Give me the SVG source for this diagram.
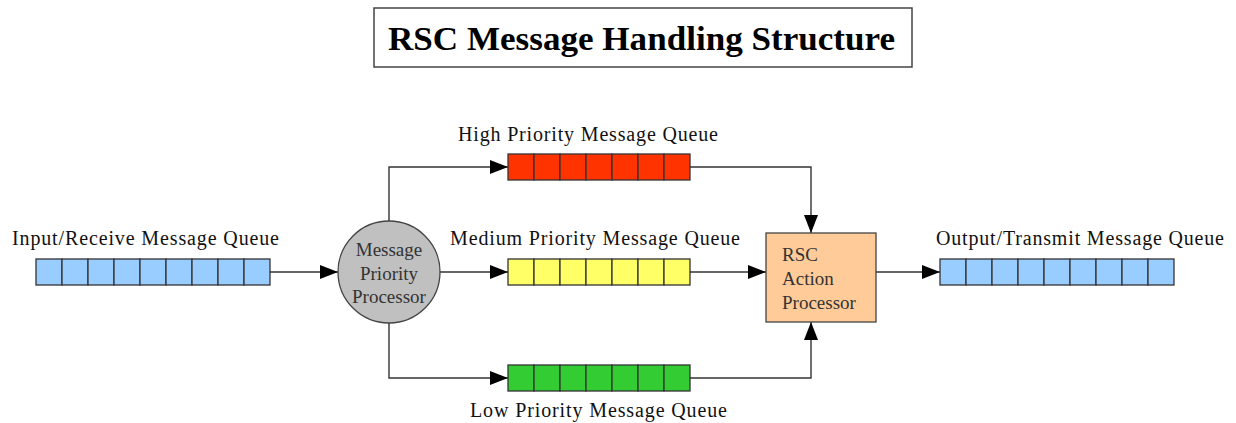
<svg xmlns="http://www.w3.org/2000/svg" width="1236" height="423" viewBox="0 0 1236 423">
<style>
  .lbl { font-family: "Liberation Serif", "Times New Roman", serif; font-size: 20px; fill: #111; }
  .in { font-family: "Liberation Serif", "Times New Roman", serif; font-size: 19px; fill: #333; }
  .title { font-family: "Liberation Serif", "Times New Roman", serif; font-size: 34px; font-weight: bold; fill: #000; }
  .cell { stroke: #333; stroke-width: 1.3; }
  .blue { fill: #99ccff; }
  .red { fill: #ff3300; }
  .yellow { fill: #ffff66; }
  .green { fill: #33cc33; }
  .conn { fill: none; stroke: #333; stroke-width: 1.4; marker-end: url(#arr); }
</style>
<defs>
  <marker id="arr" markerUnits="userSpaceOnUse" markerWidth="18" markerHeight="14" refX="18" refY="7" orient="auto">
    <path d="M0,0 L18,7 L0,14 z" fill="#000"/>
  </marker>
</defs>
<rect width="1236" height="423" fill="#fff"/>

<g id="title">
  <rect x="374" y="8" width="538" height="59" fill="#fff" stroke="#444" stroke-width="1.5"/>
  <text class="title" x="388" y="50" textLength="507" lengthAdjust="spacingAndGlyphs">RSC Message Handling Structure</text>
</g>

<g id="connectors">
  <line class="conn" x1="270" y1="272" x2="338" y2="272"/>
  <polyline class="conn" points="389,221 389,167 508,167"/>
  <line class="conn" x1="440" y1="272" x2="508" y2="272"/>
  <polyline class="conn" points="389,323 389,378 508,378"/>
  <polyline class="conn" points="690,167 811,167 811,233"/>
  <line class="conn" x1="690" y1="272" x2="766" y2="272"/>
  <polyline class="conn" points="690,378 811,378 811,322"/>
  <line class="conn" x1="876" y1="272" x2="940" y2="272"/>
</g>

<g id="input-queue">
  <text class="lbl" x="12" y="245" textLength="267" lengthAdjust="spacing">Input/Receive Message Queue</text>
  <g class="cell blue">
    <rect x="36" y="259" width="26" height="26"/><rect x="62" y="259" width="26" height="26"/><rect x="88" y="259" width="26" height="26"/>
    <rect x="114" y="259" width="26" height="26"/><rect x="140" y="259" width="26" height="26"/><rect x="166" y="259" width="26" height="26"/>
    <rect x="192" y="259" width="26" height="26"/><rect x="218" y="259" width="26" height="26"/><rect x="244" y="259" width="26" height="26"/>
  </g>
</g>

<g id="priority-processor">
  <circle cx="389" cy="272" r="51" fill="#c0c0c0" stroke="#444" stroke-width="1.3"/>
  <text class="in" x="389" y="256" text-anchor="middle">Message</text>
  <text class="in" x="389" y="280" text-anchor="middle">Priority</text>
  <text class="in" x="389" y="303" text-anchor="middle">Processor</text>
</g>

<g id="high-queue">
  <text class="lbl" x="458" y="141" textLength="260" lengthAdjust="spacing">High Priority Message Queue</text>
  <g class="cell red">
    <rect x="508" y="154" width="26" height="26"/><rect x="534" y="154" width="26" height="26"/><rect x="560" y="154" width="26" height="26"/>
    <rect x="586" y="154" width="26" height="26"/><rect x="612" y="154" width="26" height="26"/><rect x="638" y="154" width="26" height="26"/>
    <rect x="664" y="154" width="26" height="26"/>
  </g>
</g>

<g id="medium-queue">
  <text class="lbl" x="450" y="245" textLength="290" lengthAdjust="spacing">Medium Priority Message Queue</text>
  <g class="cell yellow">
    <rect x="508" y="259" width="26" height="26"/><rect x="534" y="259" width="26" height="26"/><rect x="560" y="259" width="26" height="26"/>
    <rect x="586" y="259" width="26" height="26"/><rect x="612" y="259" width="26" height="26"/><rect x="638" y="259" width="26" height="26"/>
    <rect x="664" y="259" width="26" height="26"/>
  </g>
</g>

<g id="low-queue">
  <g class="cell green">
    <rect x="508" y="365" width="26" height="26"/><rect x="534" y="365" width="26" height="26"/><rect x="560" y="365" width="26" height="26"/>
    <rect x="586" y="365" width="26" height="26"/><rect x="612" y="365" width="26" height="26"/><rect x="638" y="365" width="26" height="26"/>
    <rect x="664" y="365" width="26" height="26"/>
  </g>
  <text class="lbl" x="470" y="417" textLength="257" lengthAdjust="spacing">Low Priority Message Queue</text>
</g>

<g id="action-processor">
  <rect x="766" y="233" width="110" height="89" fill="#ffcc99" stroke="#444" stroke-width="1.3"/>
  <text class="in" x="782" y="261">RSC</text>
  <text class="in" x="782" y="285">Action</text>
  <text class="in" x="782" y="309">Processor</text>
</g>

<g id="output-queue">
  <text class="lbl" x="936" y="245" textLength="288" lengthAdjust="spacing">Output/Transmit Message Queue</text>
  <g class="cell blue">
    <rect x="940" y="259" width="26" height="26"/><rect x="966" y="259" width="26" height="26"/><rect x="992" y="259" width="26" height="26"/>
    <rect x="1018" y="259" width="26" height="26"/><rect x="1044" y="259" width="26" height="26"/><rect x="1070" y="259" width="26" height="26"/>
    <rect x="1096" y="259" width="26" height="26"/><rect x="1122" y="259" width="26" height="26"/><rect x="1148" y="259" width="26" height="26"/>
  </g>
</g>
</svg>
